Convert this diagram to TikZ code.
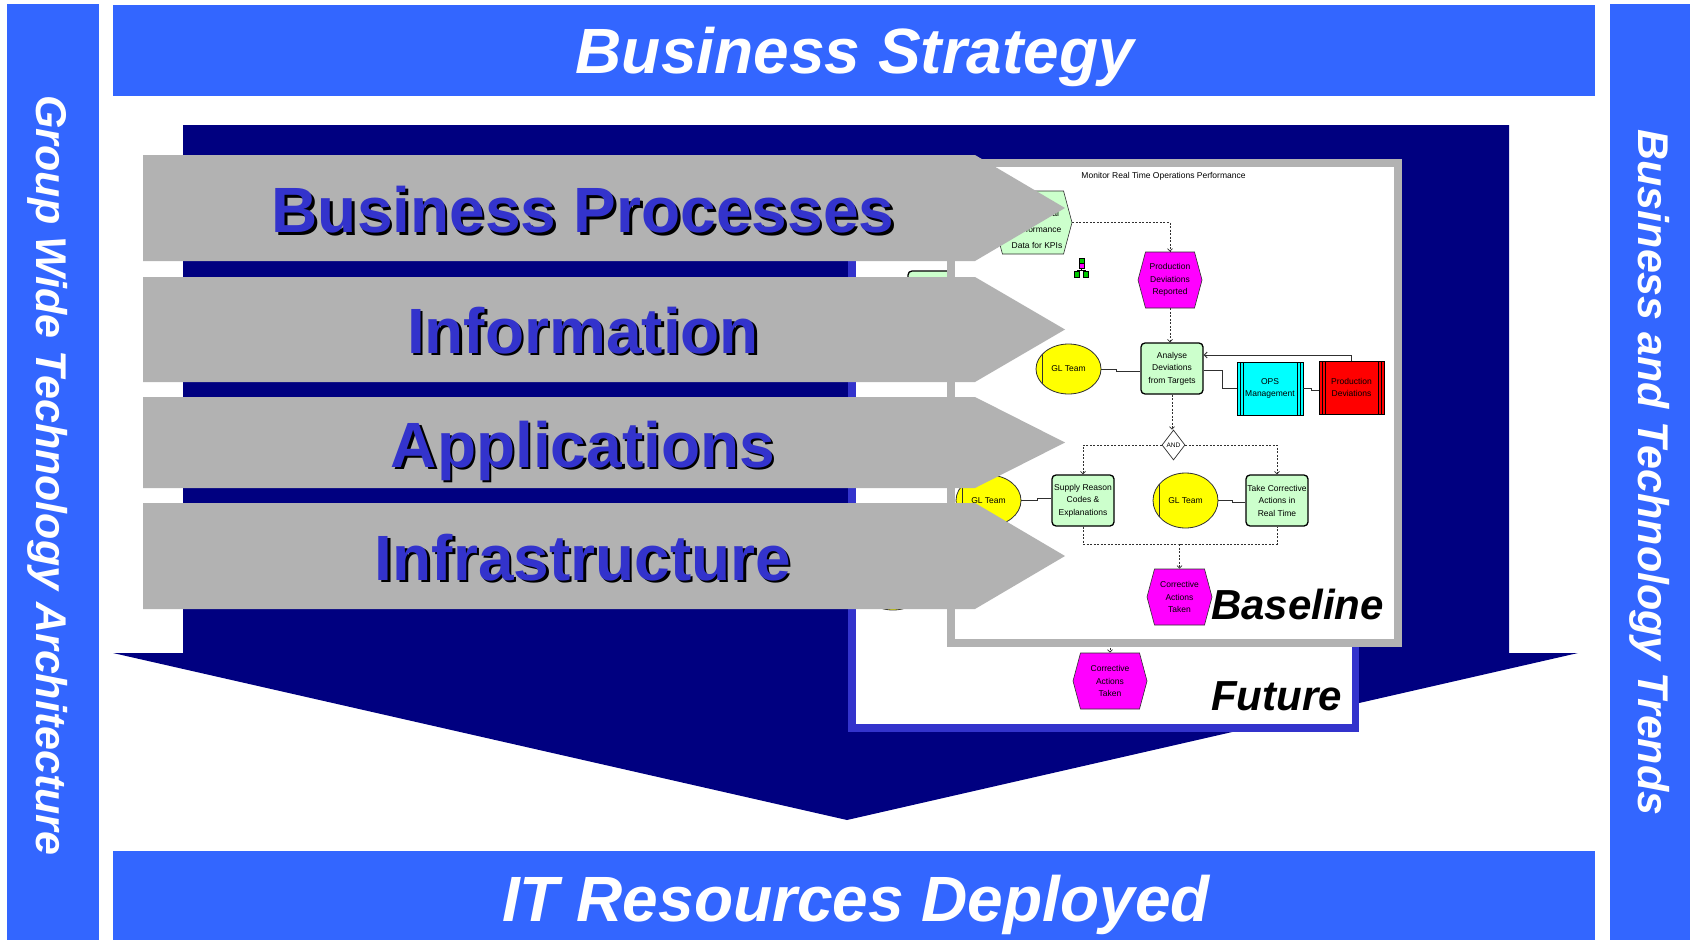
\documentclass[tikz,border=0pt]{standalone}
\usepackage{fontspec}
\setmainfont{Liberation Sans}
\usetikzlibrary{shapes.geometric,shapes.symbols,arrows.meta}

\definecolor{barblue}{HTML}{3366FF}
\definecolor{navyfill}{HTML}{000080}
\definecolor{chevgray}{HTML}{B2B2B2}
\definecolor{labelblue}{HTML}{3333CC}
\definecolor{fngreen}{HTML}{CCFFCC}
\definecolor{epcline}{HTML}{303030}
\definecolor{icongreen}{HTML}{00CC00}
\definecolor{evmagenta}{RGB}{255,0,255}
\definecolor{unitcyan}{RGB}{0,255,255}
\definecolor{unitred}{RGB}{255,0,0}
\definecolor{roleyellow}{RGB}{255,255,0}

\newcommand{\epcsize}{\fontsize{8.5}{12.5}\selectfont}

\begin{document}
\begin{tikzpicture}[x=1pt,y=-1pt,
  band/.style={fill=barblue},
  bandtext/.style={text=white,inner sep=0pt,anchor=base,font=\fontsize{64}{70}\selectfont\bfseries\itshape},
  sidetext/.style={text=white,inner sep=0pt,anchor=base,rotate=-90,font=\fontsize{43}{48}\selectfont\bfseries\itshape},
  chevshape/.style={fill=chevgray},
  layertext/.style={inner sep=0pt,anchor=base,text=labelblue,font=\fontsize{64}{70}\selectfont\bfseries},
  layershadow/.style={layertext,text=black},
  framelabel/.style={inner sep=0pt,anchor=base west,font=\fontsize{42}{46}\selectfont\bfseries\itshape},
  func/.style={rectangle,rounded corners=4pt,draw=black,line width=1.3pt,fill=fngreen,
    minimum width=62pt,minimum height=51pt,inner sep=0pt,align=center,font=\epcsize},
  event/.style={signal,signal to=east and west,signal from=nowhere,signal pointer angle=150,
    draw=epcline,line width=0.6pt,fill=evmagenta,minimum width=64pt,minimum height=56pt,
    inner sep=0pt,align=center,font=\epcsize},
  orgrole/.style={ellipse,draw=epcline,line width=0.8pt,fill=roleyellow,minimum width=65pt,
    minimum height=50pt,inner sep=0pt,font=\epcsize,
    path picture={\draw[epcline,line width=0.8pt]
      ([xshift=6.5pt]path picture bounding box.north west) --
      ([xshift=6.5pt]path picture bounding box.south west);}},
  unitbox/.style={rectangle,draw=black,line width=0.8pt,minimum width=66pt,minimum height=53pt,
    inner sep=0pt,align=center,font=\epcsize,
    path picture={\foreach \d in {3,6}{
      \draw[black,line width=0.6pt]
        ([xshift=\d pt]path picture bounding box.north west) --
        ([xshift=\d pt]path picture bounding box.south west);
      \draw[black,line width=0.6pt]
        ([xshift=-\d pt]path picture bounding box.north east) --
        ([xshift=-\d pt]path picture bounding box.south east);}}},
  flow/.style={draw=epcline,line width=0.7pt,dash pattern=on 2pt off 1.5pt},
  flowarr/.style={flow,-{Straight Barb[length=2.5pt,width=5pt]}},
  assoc/.style={draw=epcline,line width=0.8pt},
  assocarr/.style={assoc,-{Straight Barb[length=3pt,width=6pt]}}
]
\useasboundingbox (0,0) rectangle (1690,940);

% outer frame bands
\fill[band] (7,4) rectangle (99,940);
\fill[band] (1610,4) rectangle (1690,940);
\fill[band] (113,5) rectangle (1595,96);
\fill[band] (113,851) rectangle (1595,940);
\node[bandtext] (strategy) at (855,73) {Business Strategy};
\node[bandtext] (itres) at (856,921) {IT Resources Deployed};
\node[sidetext] (gwta) at (36,475.5) {Group Wide Technology Architecture};
\node[sidetext] (trends) at (1638,472.5) {Business and Technology Trends};

% big downward arrow
\fill[navyfill] (183,125) -- (1509,125) -- (1509,653) -- (1578,653) -- (847,820)
  -- (113,653) -- (183,653) -- cycle;

% future model sheet
\draw[draw=labelblue,line width=7.5pt,fill=white] (852,164) rectangle (1355.5,728);
\node[func] (fgrn) at (939,296.5) {};
\node[orgrole] (fgl) at (893,585) {};
\node[event,minimum width=74pt] (fcat) at (1110,681) {Corrective\\Actions\\Taken};
\coordinate (fsrc) at (1110,630);
\draw[flowarr] (fsrc) -- (fcat.north);
\node[framelabel] (futurelbl) at (1211,710) {Future};

% baseline model sheet
\draw[draw=chevgray,line width=8pt,fill=white] (951,163) rectangle (1398,643);
\node[inner sep=0pt,font=\epcsize] (title) at (1163.5,176) {Monitor Real Time Operations Performance};

\node[event,fill=fngreen,minimum width=78pt,minimum height=63pt] (opd) at (1033,222.5) {};
\node[inner sep=0pt,align=center,font=\fontsize{8.5}{16}\selectfont] (opdtext) at (1037,229)
  {Operational\\Performance\\Data for KPIs};

% process interface icon
\fill[icongreen,draw=black,line width=0.4pt] (1079,258) rectangle (1084,263);
\fill[evmagenta,draw=black,line width=0.4pt] (1079,263) rectangle (1084,268);
\draw[black,line width=0.5pt] (1081.5,268) -- (1081.5,270) (1076.5,270) -- (1086,270);
\fill[icongreen,draw=black,line width=0.4pt] (1074,271) rectangle (1079,277);
\fill[icongreen,draw=black,line width=0.4pt] (1083.5,271) rectangle (1088.5,277);

\node[event] (prd) at (1170,280) {Production\\Deviations\\Reported};
\node[func] (adt) at (1172,368.5) {Analyse\\Deviations\\from Targets};
\node[orgrole] (gl1) at (1068.5,369) {GL Team};
\node[unitbox,fill=unitcyan] (ops) at (1270,388.5) {OPS\\Management};
\node[unitbox,fill=unitred,minimum width=65pt] (pdv) at (1351.5,387.5) {Production\\Deviations};
\node[diamond,draw=epcline,line width=0.7pt,fill=white,minimum width=23pt,minimum height=30pt,
  inner sep=0pt,font=\fontsize{6.5}{7}\selectfont] (and) at (1173.5,445) {AND};
\node[func] (src) at (1083,500.5) {Supply Reason\\Codes \&\\Explanations};
\node[func] (tca) at (1277,500.5) {Take Corrective\\Actions in\\Real Time};
\node[orgrole,minimum height=51pt] (gl2) at (988.5,500.5) {GL Team};
\node[orgrole,minimum height=55pt] (gl3) at (1185.5,500.5) {GL Team};
\node[event,minimum width=65pt] (cat) at (1179.5,597) {Corrective\\Actions\\Taken};

\draw[flowarr] (opd.east) -| (prd.north);
\draw[flowarr] (prd.south) -- (prd.south |- adt.north);
\draw[assoc] (gl1.east) -- ++(15,0) |- ([yshift=-2.5pt]adt.west);
\draw[assoc] ([yshift=-1.5pt]adt.east) -- ++(19,0) |- (ops.west);
\draw[assoc] (ops.east) -- ++(8,0) |- ([yshift=-2.5pt]pdv.west);
\draw[assocarr] (pdv.north) |- ([yshift=13.5pt]adt.east);
\draw[flowarr] (adt.south) -- (adt.south |- and.north);
\draw[flowarr] (and.west) -| (src.north);
\draw[flowarr] (and.east) -| (tca.north);
\draw[assoc] (gl2.east) -- ++(16,0) |- ([yshift=2pt]src.west);
\draw[assoc] (gl3.east) -- ++(14,0) |- ([yshift=-1.5pt]tca.west);
\coordinate (merge) at (1179.5,544);
\draw[flow] (src.south) |- (merge) -| (tca.south);
\draw[flowarr] (merge) -- (cat.north);

\node[framelabel] (baselbl) at (1211,619) {Baseline};

% architecture layers
\fill[chevshape] (143,155) -- (975,155) -- (1065,208) -- (975,261) -- (143,261) -- cycle;
\fill[chevshape] (143,277) -- (975,277) -- (1065,329.5) -- (975,382) -- (143,382) -- cycle;
\fill[chevshape] (143,397) -- (975,397) -- (1065,442.5) -- (975,488) -- (143,488) -- cycle;
\fill[chevshape] (143,503) -- (975,503) -- (1065,556) -- (975,609) -- (143,609) -- cycle;

\node[layershadow] (bp-s) at (585.5,235) {Business Processes};
\node[layertext] (bp) at (583,232.5) {Business Processes};
\node[layershadow] (inf-s) at (585.5,355.5) {Information};
\node[layertext] (inf) at (583,353) {Information};
\node[layershadow] (app-s) at (585.5,469.5) {Applications};
\node[layertext] (app) at (583,467) {Applications};
\node[layershadow] (infra-s) at (585.5,582.5) {Infrastructure};
\node[layertext] (infra) at (583,580) {Infrastructure};
\end{tikzpicture}
\end{document}
